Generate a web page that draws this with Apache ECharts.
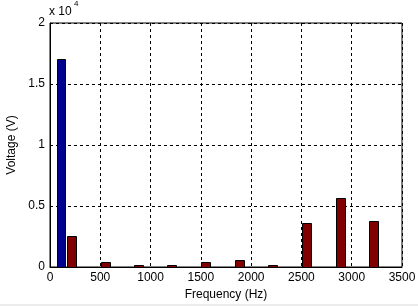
<!DOCTYPE html>
<html><head><meta charset="utf-8">
<script src="https://cdn.jsdelivr.net/npm/echarts@6/dist/echarts.min.js"></script>
<style>html,body{margin:0;padding:0;background:#fff}#c{width:418px;height:306px}</style>
</head><body><div id="c"></div>
<script>
// blue series: bar-centre frequency (Hz) and voltage (V)
const freqA = [114];
const seriesA = [17070];
// dark red series: bar-centre frequencies (Hz) and voltages (V)
const freqB = [211, 547, 878, 1211, 1551, 1882, 2217, 2550, 2886, 3221];
const seriesB = [2570, 370, 150, 150, 450, 540, 190, 3630, 5680, 3800];
const xTicks = [0, 500, 1000, 1500, 2000, 2500, 3000, 3500];
const yTicks = [0, 0.5, 1, 1.5, 2];

const font = '"Liberation Sans", Arial, sans-serif';
const chart = echarts.init(document.getElementById('c'), null, {renderer: 'canvas'});
const pair = (fs, vals) => fs.map((f, i) => [f, vals[i]]);
const barRenderer = (width, fill) => (params, api) => {
  const base = api.coord([api.value(0), 0]);
  const top = api.coord([api.value(0), api.value(1)]);
  const x0 = Math.round(base[0] - width / 2) + 0.5;
  const y0 = Math.round(top[1]) + 0.5;
  const y1 = Math.round(base[1]) + 0.5;
  return {type: 'rect', shape: {x: x0, y: y0, width: width, height: y1 - y0},
    style: {fill: fill, stroke: '#000', lineWidth: 1}};
};
chart.setOption({
  animation: false,
  backgroundColor: '#fff',
  grid: {left: 50, right: 16, top: 23, bottom: 39, show: true, borderColor: '#000', borderWidth: 1,
         outerBoundsMode: 'none', containLabel: false},
  xAxis: {
    type: 'value', min: 0, max: 3500, interval: 500,
    name: 'Frequency (Hz)', nameLocation: 'middle', nameGap: 21,
    nameTextStyle: {fontFamily: font, fontSize: 12, color: '#000'},
    axisLine: {show: true, lineStyle: {color: '#000'}},
    axisTick: {show: false},
    axisLabel: {fontFamily: font, fontSize: 12, color: '#000', margin: 5,
      formatter: v => xTicks.includes(v) ? String(v) : ''},
    splitLine: {show: true, lineStyle: {color: '#000', type: [3, 3], width: 1}}
  },
  yAxis: {
    type: 'value', min: 0, max: 20000, interval: 5000,
    name: 'Voltage (V)', nameLocation: 'middle', nameGap: 32,
    nameTextStyle: {fontFamily: font, fontSize: 12, color: '#000'},
    axisLine: {show: true, lineStyle: {color: '#000'}},
    axisTick: {show: false},
    axisLabel: {fontFamily: font, fontSize: 12, color: '#000', margin: 5,
      formatter: v => { const t = v / 10000; return yTicks.includes(t) ? String(t) : ''; }},
    splitLine: {show: true, lineStyle: {color: '#000', type: [3, 3], width: 1}}
  },
  graphic: [
    {type: 'text', left: 49, top: 6, style: {text: 'x 10', font: '12px ' + font, fill: '#000'}},
    {type: 'text', left: 74, top: 0, style: {text: '4', font: '8px ' + font, fill: '#000'}},
    {type: 'rect', left: 0, top: 304, shape: {width: 418, height: 2}, style: {fill: '#ececec'}, silent: true}
  ],
  series: [
    {type: 'custom', data: pair(freqA, seriesA), encode: {x: 0, y: 1},
     renderItem: barRenderer(8, '#00008f')},
    {type: 'custom', data: pair(freqB, seriesB), encode: {x: 0, y: 1},
     renderItem: barRenderer(9, '#800000')}
  ]
});
</script></body></html>
